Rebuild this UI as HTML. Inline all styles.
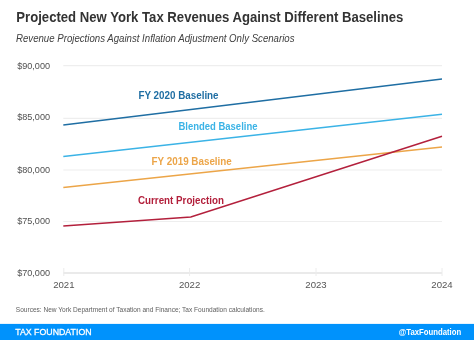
<!DOCTYPE html>
<html><head><meta charset="utf-8">
<style>
html,body{margin:0;padding:0;background:#fff;width:474px;height:340px;overflow:hidden}
svg{display:block;will-change:transform}
text{font-family:"Liberation Sans",sans-serif}
</style></head>
<body>
<svg width="474" height="340" viewBox="0 0 474 340">
<rect x="0" y="0" width="474" height="340" fill="#fff"/>
<!-- title -->
<text x="16.3" y="22.4" font-size="14" font-weight="bold" fill="#333333" textLength="387" lengthAdjust="spacingAndGlyphs">Projected New York Tax Revenues Against Different Baselines</text>
<text x="16" y="41.6" font-size="10.4" font-style="italic" fill="#404040" textLength="278.5" lengthAdjust="spacingAndGlyphs">Revenue Projections Against Inflation Adjustment Only Scenarios</text>
<!-- gridlines -->
<g stroke="#eeeeee" stroke-width="1.2">
<line x1="63.3" y1="65.6" x2="442" y2="65.6"/>
<line x1="63.3" y1="118.4" x2="442" y2="118.4"/>
<line x1="63.3" y1="170.0" x2="442" y2="170.0"/>
<line x1="63.3" y1="221.5" x2="442" y2="221.5"/>
</g>
<line x1="63.3" y1="272.9" x2="442" y2="272.9" stroke="#e3e3e3" stroke-width="1.5"/>
<g stroke="#ececec" stroke-width="1">
<line x1="63.8" y1="268" x2="63.8" y2="276"/>
<line x1="189.6" y1="268" x2="189.6" y2="276"/>
<line x1="316" y1="268" x2="316" y2="276"/>
<line x1="442" y1="268" x2="442" y2="276"/>
</g>
<!-- y labels -->
<g font-size="9.1" fill="#505050" text-anchor="end">
<text x="50" y="68.5">$90,000</text>
<text x="50" y="120.4">$85,000</text>
<text x="50" y="172.7">$80,000</text>
<text x="50" y="224.2">$75,000</text>
<text x="50" y="276.1">$70,000</text>
</g>
<!-- x labels -->
<g font-size="9.6" fill="#555555" text-anchor="middle">
<text x="63.8" y="287.6">2021</text>
<text x="189.6" y="287.6">2022</text>
<text x="316" y="287.6">2023</text>
<text x="442" y="287.6">2024</text>
</g>
<!-- lines -->
<g fill="none" stroke-width="1.55" stroke-linecap="butt">
<polyline points="63.3,125.1 442,79.1" stroke="#1f6ea3"/>
<polyline points="63.3,156.6 442,114.3" stroke="#3bb3e6"/>
<polyline points="63.3,187.6 442,147.1" stroke="#eca548"/>
<polyline points="63.3,226.1 190.8,216.9 442,136.3" stroke="#b3203c"/>
</g>
<!-- series labels -->
<g font-size="10.2" font-weight="bold">
<text x="138.4" y="98.7" fill="#1f6ea3" textLength="80.2" lengthAdjust="spacingAndGlyphs">FY 2020 Baseline</text>
<text x="178.4" y="130.2" fill="#3bb3e6" textLength="79.1" lengthAdjust="spacingAndGlyphs">Blended Baseline</text>
<text x="151.6" y="165.2" fill="#eca548" textLength="80.2" lengthAdjust="spacingAndGlyphs">FY 2019 Baseline</text>
<text x="138" y="203.6" fill="#b3203c" textLength="85.9" lengthAdjust="spacingAndGlyphs">Current Projection</text>
</g>
<!-- sources -->
<text x="15.8" y="312.4" font-size="7" fill="#606060" textLength="249" lengthAdjust="spacingAndGlyphs">Sources: New York Department of Taxation and Finance; Tax Foundation calculations.</text>
<!-- footer -->
<rect x="0" y="323.9" width="474" height="16.1" fill="#0092fc"/>
<text x="15.2" y="335.1" font-size="9.8" fill="#ffffff" stroke="#ffffff" stroke-width="0.3" textLength="76.4" lengthAdjust="spacingAndGlyphs">TAX FOUNDATION</text>
<text x="398.8" y="335.4" font-size="9.1" font-weight="bold" fill="#ffffff" textLength="62.4" lengthAdjust="spacingAndGlyphs">@TaxFoundation</text>
</svg>
</body></html>
